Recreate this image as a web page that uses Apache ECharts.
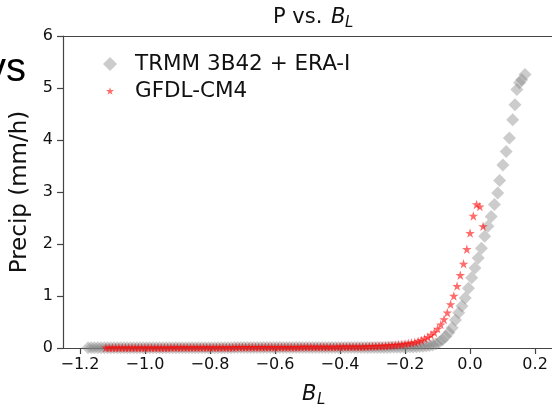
<!DOCTYPE html>
<html>
<head>
<meta charset="utf-8">
<script src="https://cdn.jsdelivr.net/npm/echarts@6/dist/echarts.min.js"></script>
<style>html,body{margin:0;padding:0;background:#fff}#c{width:552px;height:408px}</style>
</head>
<body>
<div id="c"></div>
<script>
// ---- data ----
const xTicks = [-1.2, -1.0, -0.8, -0.6, -0.4, -0.2, 0.0, 0.2];
const yTicks = [0, 1, 2, 3, 4, 5, 6];

const trmmName = 'TRMM 3B42 + ERA-I';
const trmmX = [
-1.175,-1.165,-1.155,-1.145,-1.135,-1.125,-1.115,-1.105,-1.095,-1.085,
-1.075,-1.065,-1.055,-1.045,-1.035,-1.025,-1.015,-1.005,-0.995,-0.985,
-0.975,-0.965,-0.955,-0.945,-0.935,-0.925,-0.915,-0.905,-0.895,-0.885,
-0.875,-0.865,-0.855,-0.845,-0.835,-0.825,-0.815,-0.805,-0.795,-0.785,
-0.775,-0.765,-0.755,-0.745,-0.735,-0.725,-0.715,-0.705,-0.695,-0.685,
-0.675,-0.665,-0.655,-0.645,-0.635,-0.625,-0.615,-0.605,-0.595,-0.585,
-0.575,-0.565,-0.555,-0.545,-0.535,-0.525,-0.515,-0.505,-0.495,-0.485,
-0.475,-0.465,-0.455,-0.445,-0.435,-0.425,-0.415,-0.405,-0.395,-0.385,
-0.375,-0.365,-0.355,-0.345,-0.335,-0.325,-0.315,
-0.305,-0.295,-0.285,-0.275,-0.265,-0.255,-0.245,-0.235,-0.225,-0.215,
-0.205,-0.195,-0.185,-0.175,-0.165,-0.155,-0.145,-0.135,-0.125,-0.115,
-0.105,-0.095,-0.085,-0.075,-0.065,-0.055,-0.045,-0.035,-0.025,-0.015,
-0.005,0.005,0.015,0.025,0.035,0.045,0.055,0.065,0.075,0.085,
0.091,0.101,0.111,0.121,0.131,0.138,0.144,0.152,0.159,0.169];
const trmmY = [
0.005,0.005,0.005,0.005,0.005,0.005,0.005,0.005,0.005,0.005,
0.005,0.005,0.005,0.005,0.005,0.005,0.005,0.005,0.005,0.005,
0.005,0.005,0.005,0.005,0.005,0.005,0.005,0.005,0.005,0.005,
0.005,0.005,0.005,0.005,0.005,0.005,0.005,0.005,0.005,0.005,
0.005,0.005,0.005,0.005,0.005,0.01,0.01,0.01,0.01,0.01,
0.01,0.01,0.01,0.01,0.01,0.01,0.01,0.01,0.01,0.01,
0.01,0.01,0.01,0.01,0.01,0.01,0.01,0.01,0.01,0.01,
0.01,0.01,0.01,0.01,0.01,0.01,0.01,0.01,0.01,0.01,
0.01,0.01,0.01,0.01,0.01,0.01,0.01,
0.01,0.01,0.01,0.01,0.01,0.01,0.015,0.015,0.015,0.015,
0.02,0.02,0.02,0.02,0.025,0.03,0.035,0.04,0.05,0.06,
0.08,0.11,0.16,0.22,0.30,0.39,0.54,0.68,0.81,0.96,
1.15,1.35,1.54,1.73,1.92,2.15,2.34,2.53,2.76,2.98,
3.22,3.52,3.78,4.04,4.39,4.68,4.97,5.10,5.16,5.26];

const gfdlName = 'GFDL-CM4';
const gfdlX = [
-1.12,-1.11,-1.10,-1.09,-1.08,-1.07,-1.06,-1.05,-1.04,-1.03,
-1.02,-1.01,-1.00,-0.99,-0.98,-0.97,-0.96,-0.95,-0.94,-0.93,
-0.92,-0.91,-0.90,-0.89,-0.88,-0.87,-0.86,-0.85,-0.84,-0.83,
-0.82,-0.81,-0.80,-0.79,-0.78,-0.77,-0.76,-0.75,-0.74,-0.73,
-0.72,-0.71,-0.70,-0.69,-0.68,-0.67,-0.66,-0.65,-0.64,-0.63,
-0.62,-0.61,-0.60,-0.59,-0.58,-0.57,-0.56,-0.55,-0.54,-0.53,
-0.52,-0.51,-0.50,-0.49,-0.48,-0.47,-0.46,-0.45,-0.44,-0.43,
-0.42,-0.41,-0.40,-0.39,-0.38,-0.37,-0.36,-0.35,-0.34,-0.33,
-0.32,-0.31,
-0.30,-0.29,-0.28,-0.27,-0.26,-0.25,-0.24,-0.23,-0.22,-0.21,
-0.20,-0.19,-0.18,-0.17,-0.16,-0.15,-0.14,-0.13,-0.12,-0.11,
-0.10,-0.09,-0.08,-0.07,-0.06,-0.05,-0.04,-0.03,-0.02,-0.01,
0.00,0.01,0.02,0.03,0.04];
const gfdlY = [
0.005,0.005,0.005,0.005,0.005,0.005,0.005,0.005,0.005,0.005,
0.005,0.005,0.005,0.005,0.005,0.005,0.005,0.005,0.005,0.005,
0.01,0.01,0.01,0.01,0.01,0.01,0.01,0.01,0.01,0.01,
0.01,0.01,0.01,0.01,0.01,0.01,0.01,0.01,0.01,0.01,
0.015,0.015,0.015,0.015,0.015,0.015,0.015,0.015,0.015,0.015,
0.015,0.015,0.015,0.015,0.015,0.015,0.015,0.015,0.015,0.015,
0.02,0.02,0.02,0.02,0.02,0.02,0.02,0.02,0.02,0.02,
0.02,0.02,0.025,0.025,0.025,0.025,0.025,0.025,0.025,0.025,
0.03,0.03,
0.035,0.035,0.04,0.04,0.045,0.05,0.055,0.06,0.065,0.07,
0.08,0.09,0.10,0.11,0.13,0.15,0.18,0.21,0.25,0.30,
0.37,0.45,0.55,0.68,0.84,1.00,1.19,1.40,1.62,1.90,
2.21,2.54,2.76,2.72,2.34];

// ---- styling ----
const FONT = '"DejaVu Sans", sans-serif';
const AX = '#444';
const diamondPath = 'path://M0,-1L1,0L0,1L-1,0Z';
const starPath = 'path://M50,0L61.2,34.5L97.6,34.5L68.2,55.9L79.4,90.5L50,69.1L20.6,90.5L31.8,55.9L2.4,34.5L38.8,34.5Z';
const starLegendPath = 'path://M-33,-38L-33,-38M50,0L61.2,34.5L97.6,34.5L68.2,55.9L79.4,90.5L50,69.1L20.6,90.5L31.8,55.9L2.4,34.5L38.8,34.5ZM133,128L133,128';

const fmtX = v => (v < -1e-9 ? '\u2212' : '') + Math.abs(v).toFixed(1);

const chart = echarts.init(document.getElementById('c'), null, {renderer: 'canvas'});
chart.setOption({
  animation: false,
  backgroundColor: '#fff',
  grid: {left: 63, right: 0, top: 36, bottom: 60},
  legend: {
    orient: 'vertical', left: 98, top: 48,
    itemWidth: 40, itemHeight: 14, itemGap: 5,
    selectedMode: false,
    textStyle: {fontSize: 21.5, fontFamily: FONT, color: '#111'},
    data: [{name: trmmName, icon: diamondPath}, {name: gfdlName, icon: starLegendPath}]
  },
  xAxis: [{
    type: 'value', min: -1.252, max: 0.252, position: 'bottom',
    axisLine: {onZero: false, lineStyle: {color: AX, width: 1.2}},
    axisTick: {customValues: xTicks, length: 6, lineStyle: {color: AX, width: 1.2}},
    axisLabel: {customValues: xTicks, formatter: fmtX, margin: 9, color: '#111', fontSize: 16, fontFamily: FONT},
    splitLine: {show: false}
  }, {
    type: 'value', min: -1.252, max: 0.252, position: 'top',
    axisLine: {onZero: false, lineStyle: {color: AX, width: 1.2}},
    axisTick: {show: false}, axisLabel: {show: false}, splitLine: {show: false}
  }],
  yAxis: {
    type: 'value', min: 0, max: 6,
    name: 'Precip (mm/h)', nameLocation: 'middle', nameGap: 25,
    nameTextStyle: {fontSize: 23, fontFamily: FONT, color: '#111'},
    axisLine: {show: true, onZero: false, lineStyle: {color: AX, width: 1.2}},
    axisTick: {show: true, customValues: yTicks, length: 6, lineStyle: {color: AX, width: 1.2}},
    axisLabel: {customValues: yTicks, margin: 10, color: '#111', fontSize: 16, fontFamily: FONT},
    splitLine: {show: false}
  },
  series: [{
    type: 'scatter', name: trmmName, xAxisIndex: 0, clip: true,
    data: trmmX.map((x, i) => [x, trmmY[i]]),
    symbol: diamondPath, symbolSize: 13,
    itemStyle: {color: 'rgba(128,128,128,0.5)'},
    emphasis: {disabled: true}
  }, {
    type: 'scatter', name: gfdlName, xAxisIndex: 0, clip: true,
    data: gfdlX.map((x, i) => [x, gfdlY[i]]),
    symbol: starPath, symbolSize: 9.5,
    itemStyle: {color: 'rgba(255,0,0,0.72)'},
    emphasis: {disabled: true}
  }],
  graphic: [
    {type: 'text', x: 273, y: 18, style: {text: 'P vs.', font: '21px ' + FONT, fill: '#111', align: 'left', verticalAlign: 'middle'}},
    {type: 'text', x: 331, y: 18, style: {text: 'B', font: 'italic 21px ' + FONT, fill: '#111', align: 'left', verticalAlign: 'middle'}},
    {type: 'text', x: 345, y: 23, style: {text: 'L', font: 'italic 15px ' + FONT, fill: '#111', align: 'left', verticalAlign: 'middle'}},
    {type: 'text', x: 302, y: 395, style: {text: 'B', font: 'italic 21px ' + FONT, fill: '#111', align: 'left', verticalAlign: 'middle'}},
    {type: 'text', x: 317, y: 400, style: {text: 'L', font: 'italic 15px ' + FONT, fill: '#111', align: 'left', verticalAlign: 'middle'}},
    {type: 'text', x: 26, y: 90, style: {text: 'vs', font: '40px "Liberation Sans", Arial, sans-serif', fill: '#000', align: 'right', verticalAlign: 'bottom'}}
  ]
});
</script>
</body>
</html>
